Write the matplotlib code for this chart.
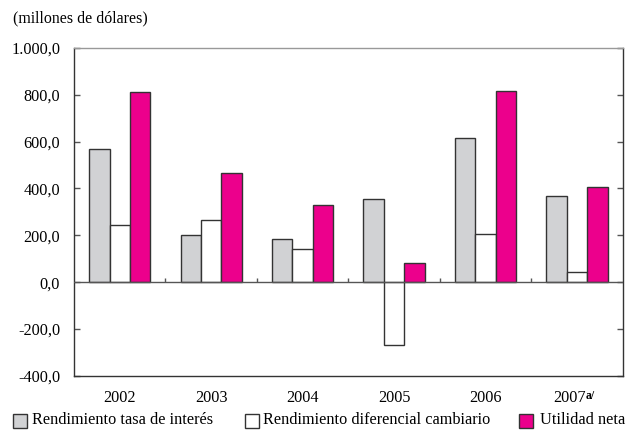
import matplotlib
matplotlib.use("Agg")
import matplotlib.pyplot as plt
import numpy as np
from matplotlib.patches import Rectangle
from matplotlib.ticker import FuncFormatter
from matplotlib.transforms import blended_transform_factory, ScaledTranslation

plt.rcParams['font.family'] = ['Liberation Serif', 'DejaVu Serif']
plt.rcParams['font.size'] = 11.7

years = ["2002", "2003", "2004", "2005", "2006", "2007"]
tasa_interes = [569, 203, 186, 355, 614, 369]
dif_cambiario = [245, 264, 140, -268, 204, 44]
utilidad_neta = [811, 465, 328, 84, 816, 407]

labels = ["Rendimiento tasa de interés", "Rendimiento diferencial cambiario", "Utilidad neta"]
colors = ["#D1D2D4", "#FFFFFF", "#EC008C"]
edge = "#333333"

fig = plt.figure(figsize=(6.35, 4.34), dpi=100)
ax = fig.add_axes([0.1165, 0.1336, 0.9806 - 0.1165, 0.890 - 0.1336])

x = np.arange(len(years))
w = 0.223
for i, (vals, c) in enumerate(zip([tasa_interes, dif_cambiario, utilidad_neta], colors)):
    ax.bar(x + (i - 1) * w, vals, w, color=c, edgecolor=edge, linewidth=1.0, zorder=2)

ax.axhline(0, color="#555555", linewidth=1.0, zorder=3)
# small separators between years on the zero line
ax.vlines(x[:-1] + 0.5, 0, 20, color="#555555", linewidth=1.0, zorder=3)

ax.set_xlim(-0.5, len(years) - 0.5)
ax.set_ylim(-400, 1000)
ax.set_yticks(np.arange(-400, 1001, 200))

def fmt(v, pos):
    s = f"{abs(v):,.1f}".replace(",", "X").replace(".", ",").replace("X", ".")
    return ("-" if v < 0 else "") + s

ax.yaxis.set_major_formatter(FuncFormatter(fmt))
ax.tick_params(axis="y", direction="in", length=4, width=1, color="#555555",
               left=True, right=True, pad=10)
ax.set_xticks([])

# year labels under the axes; 2007 carries the "a/" note
trans = blended_transform_factory(ax.transData, ax.transAxes)
down = ScaledTranslation(0, -21.5 / 100, fig.dpi_scale_trans)
for xi, yr in zip(x, years):
    if yr == "2007":
        t = ax.text(xi - 0.08, 0, yr, transform=trans + down, ha="center", va="center")
        ax.annotate("a/", xy=(1, 0.95), xycoords=t, fontsize=8.5, fontweight="bold",
                    ha="left", va="top")
    else:
        ax.text(xi, 0, yr, transform=trans + down, ha="center", va="center")

for s in ax.spines.values():
    s.set_color("#333333")
    s.set_linewidth(1.0)
ax.spines["top"].set_color("#999999")

W, H = 635, 434
fig.text(13 / W, (H - 18) / H, "(millones de dólares)", fontsize=11.4, va="center", ha="left")

# legend row
items = [(13, 32), (245, 263), (519, 540)]
for (sx, tx), lab, c in zip(items, labels, colors):
    fig.add_artist(Rectangle((sx / W, (H - 428) / H), 14 / W, 14 / H, transform=fig.transFigure,
                             facecolor=c, edgecolor=edge, linewidth=1.0))
    fig.text(tx / W, (H - 420.5) / H, lab, va="center", ha="left")

fig.savefig("out.png", dpi=100)
